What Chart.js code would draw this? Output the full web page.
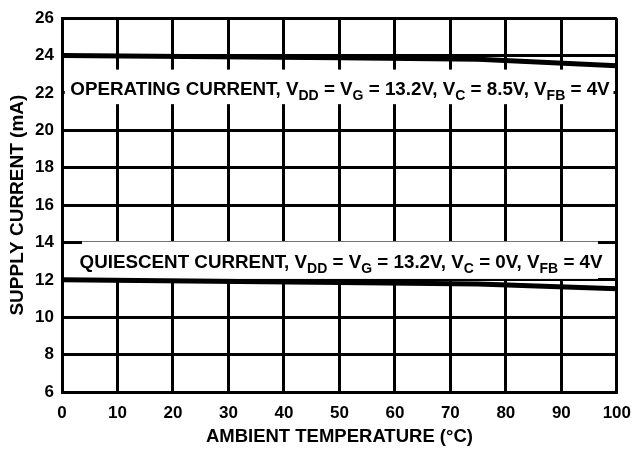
<!DOCTYPE html>
<html>
<head>
<meta charset="utf-8">
<script src="https://cdn.jsdelivr.net/npm/chart.js@4"></script>
<style>
  html, body { margin: 0; padding: 0; background: #fff; }
  #wrap { width: 642px; height: 452px; }
</style>
</head>
<body>
<div id="wrap"><canvas id="currentChart"></canvas></div>
<script>
var temps = [0, 50, 75, 100];
var operatingCurrent = [24.0, 23.89, 23.8, 23.45];
var quiescentCurrent = [12.0, 11.86, 11.78, 11.52];
var xTicks = [0, 10, 20, 30, 40, 50, 60, 70, 80, 90, 100];
var yTicks = [6, 8, 10, 12, 14, 16, 18, 20, 22, 24, 26];

var FONT = '"Liberation Sans", Arial, sans-serif';

// label text, split in parts so the V subscripts can be drawn smaller and lower
var opLabel = [
  ['OPERATING CURRENT, V'], ['DD', 1], [' = V'], ['G', 1], [' = 13.2V, V'], ['C', 1],
  [' = 8.5V, V'], ['FB', 1], [' = 4V']
];
var qLabel = [
  ['QUIESCENT CURRENT, V'], ['DD', 1], [' = V'], ['G', 1], [' = 13.2V, V'], ['C', 1],
  [' = 0V, V'], ['FB', 1], [' = 4V']
];

// white boxes behind the labels, in data units
var labelBoxes = [
  { x0: 0.5, x1: 99.4, y0: 21.4, y1: 23.25, text: opLabel, tx: 50.1, ty: 21.87 },
  { x0: 3.6, x1: 96.6, y0: 12.05, y1: 14.05, text: qLabel, tx: 50.3, ty: 12.65 }
];

function drawRich(ctx, parts, cx, baseY) {
  var main = 'bold 18.8px ' + FONT, sub = 'bold 14px ' + FONT;
  var w = 0;
  parts.forEach(function (p) { ctx.font = p[1] ? sub : main; w += ctx.measureText(p[0]).width; });
  var x = cx - w / 2;
  ctx.textAlign = 'left';
  ctx.textBaseline = 'alphabetic';
  ctx.fillStyle = '#000';
  parts.forEach(function (p) {
    ctx.font = p[1] ? sub : main;
    ctx.fillText(p[0], x, baseY + (p[1] ? 5 : 0));
    x += ctx.measureText(p[0]).width;
  });
}

var labelPlugin = {
  id: 'curveLabels',
  beforeDatasetsDraw: function (chart) {
    var ctx = chart.ctx, xs = chart.scales.x, ys = chart.scales.y;
    ctx.save();
    labelBoxes.forEach(function (b) {
      var l = xs.getPixelForValue(b.x0), r = xs.getPixelForValue(b.x1);
      var t = ys.getPixelForValue(b.y1), btm = ys.getPixelForValue(b.y0);
      ctx.fillStyle = '#fff';
      ctx.fillRect(l, t, r - l, btm - t);
      drawRich(ctx, b.text, xs.getPixelForValue(b.tx), ys.getPixelForValue(b.ty));
    });
    ctx.restore();
  }
};

new Chart('currentChart', {
  type: 'line',
  data: {
    datasets: [{
      data: temps.map(function (t, i) { return { x: t, y: operatingCurrent[i] }; }),
      borderColor: '#000',
      borderWidth: 5,
      pointRadius: 0,
      tension: 0
    }, {
      data: temps.map(function (t, i) { return { x: t, y: quiescentCurrent[i] }; }),
      borderColor: '#000',
      borderWidth: 5,
      pointRadius: 0,
      tension: 0
    }]
  },
  options: {
    responsive: true,
    maintainAspectRatio: false,
    animation: false,
    layout: { padding: { top: 10, right: 25, left: 0, bottom: 0 } },
    plugins: {
      legend: { display: false },
      tooltip: { enabled: false }
    },
    scales: {
      x: {
        type: 'linear',
        min: 0,
        max: 100,
        afterBuildTicks: function (s) { s.ticks = xTicks.map(function (v) { return { value: v }; }); },
        afterFit: function (s) { s.height = 60; },
        grid: { color: '#000', lineWidth: 3, drawTicks: false },
        border: { color: '#000', width: 3 },
        ticks: { color: '#000', font: { family: FONT, size: 17, weight: 'bold' }, padding: 11, maxRotation: 0 },
        title: {
          display: true,
          text: 'AMBIENT TEMPERATURE (°C)',
          color: '#000',
          font: { family: FONT, size: 18.5, weight: 'bold' },
          padding: { top: 0, bottom: 4 }
        }
      },
      y: {
        min: 6,
        max: 26,
        afterBuildTicks: function (s) { s.ticks = yTicks.map(function (v) { return { value: v }; }); },
        afterFit: function (s) { s.width = 62; },
        grid: { color: '#000', lineWidth: 3, drawTicks: false },
        border: { color: '#000', width: 3 },
        ticks: { color: '#000', font: { family: FONT, size: 17, weight: 'bold' }, padding: 8 },
        title: {
          display: true,
          text: 'SUPPLY CURRENT (mA)',
          color: '#000',
          font: { family: FONT, size: 19, weight: 'bold' },
          padding: { top: 6, bottom: 0 }
        }
      }
    }
  },
  plugins: [labelPlugin]
});
</script>
</body>
</html>
